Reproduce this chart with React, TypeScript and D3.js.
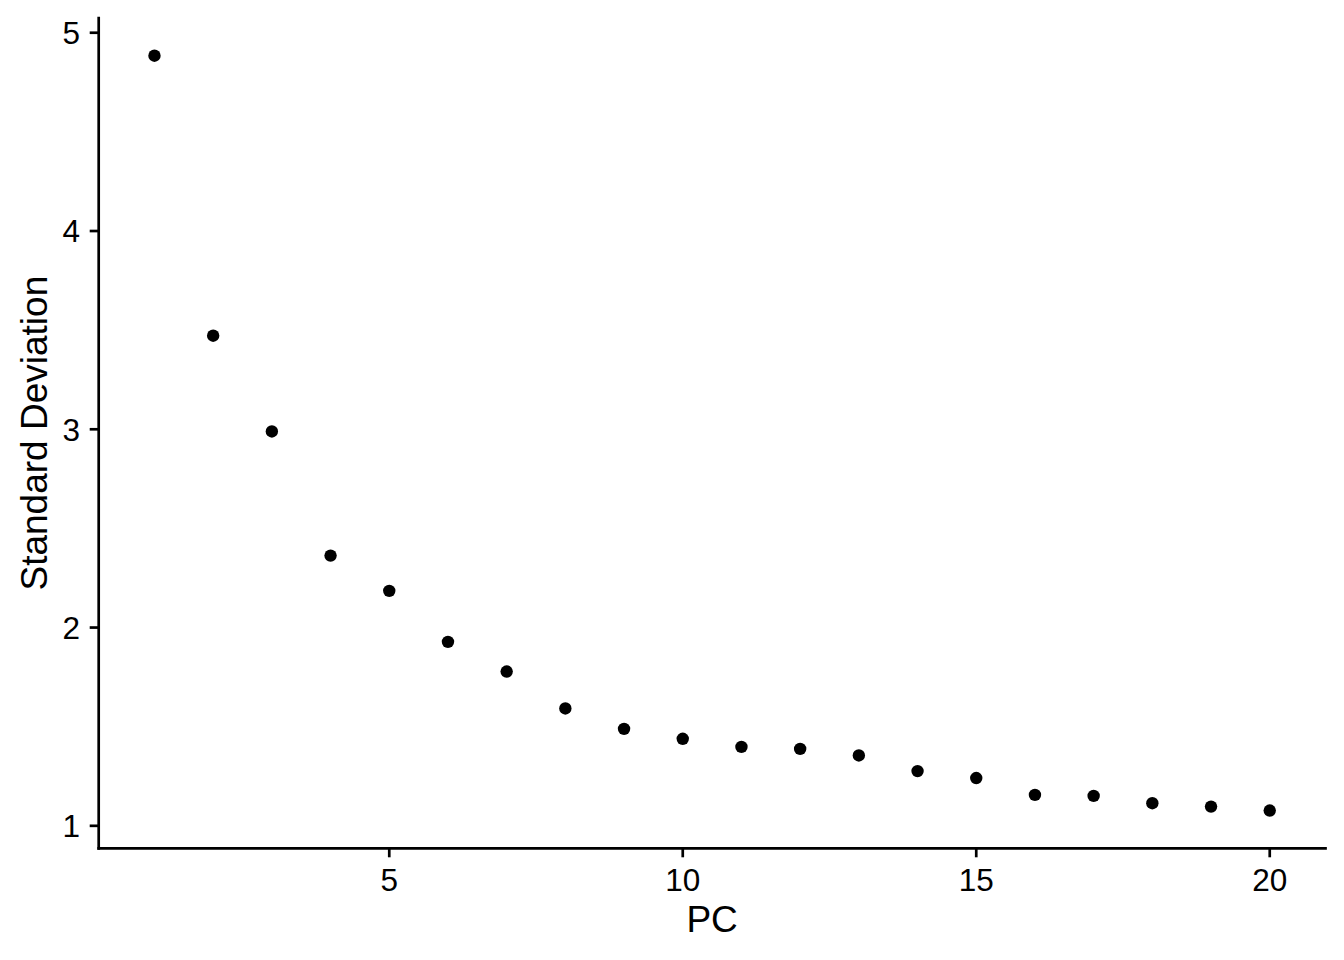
import React from "react";
import * as d3 from "d3";

const pcs = [1, 2, 3, 4, 5, 6, 7, 8, 9, 10, 11, 12, 13, 14, 15, 16, 17, 18, 19, 20];
const stdev = [4.884, 3.472, 2.989, 2.363, 2.185, 1.928, 1.778, 1.592, 1.489, 1.439, 1.398, 1.388, 1.355, 1.276, 1.241, 1.156, 1.151, 1.114, 1.097, 1.077];
const xTicks = [5, 10, 15, 20];
const yTicks = [1, 2, 3, 4, 5];
const xTitle = "PC";
const yTitle = "Standard Deviation";

const W = 1344;
const H = 960;
const left = 98.7;
const right = 1325.5;
const top = 18;
const bottom = 848.3;
const font = "'Liberation Sans', Arial, Helvetica, sans-serif";

export default function App() {
  const xExt = d3.extent(pcs) as [number, number];
  const yExt = d3.extent(stdev) as [number, number];
  const xPad = (xExt[1] - xExt[0]) * 0.05;
  const yPad = (yExt[1] - yExt[0]) * 0.05;
  const x = d3.scaleLinear().domain([xExt[0] - xPad, xExt[1] + xPad]).range([left, right]);
  const y = d3.scaleLinear().domain([yExt[0] - yPad, yExt[1] + yPad]).range([bottom, top]);
  const lw = 2.7;
  const tick = 9;
  return (
    <svg width={W} height={H} style={{ position: "absolute", left: 0, top: 0, background: "#fff" }} fontFamily={font}>
      <rect x={0} y={0} width={W} height={H} fill="#fff" />
      {pcs.map((p, i) => (
        <circle key={p} cx={x(p)} cy={y(stdev[i])} r={6.2} fill="#000" />
      ))}
      <line x1={left} x2={right} y1={bottom} y2={bottom} stroke="#000" strokeWidth={lw} strokeLinecap="square" />
      <line x1={left} x2={left} y1={top} y2={bottom} stroke="#000" strokeWidth={lw} strokeLinecap="square" />
      {xTicks.map((t) => (
        <g key={"x" + t}>
          <line x1={x(t)} x2={x(t)} y1={bottom} y2={bottom + tick} stroke="#000" strokeWidth={lw} />
          <text x={x(t)} y={891} textAnchor="middle" fontSize={31.5} fill="#000">{t}</text>
        </g>
      ))}
      {yTicks.map((t) => (
        <g key={"y" + t}>
          <line x1={left - tick} x2={left} y1={y(t)} y2={y(t)} stroke="#000" strokeWidth={lw} />
          <text x={80} y={y(t)} dy="0.36em" textAnchor="end" fontSize={31.5} fill="#000">{t}</text>
        </g>
      ))}
      <text x={(left + right) / 2} y={932} textAnchor="middle" fontSize={37} fill="#000">{xTitle}</text>
      <text transform={`translate(47, ${(top + bottom) / 2}) rotate(-90)`} textAnchor="middle" fontSize={37} fill="#000">{yTitle}</text>
    </svg>
  );
}
